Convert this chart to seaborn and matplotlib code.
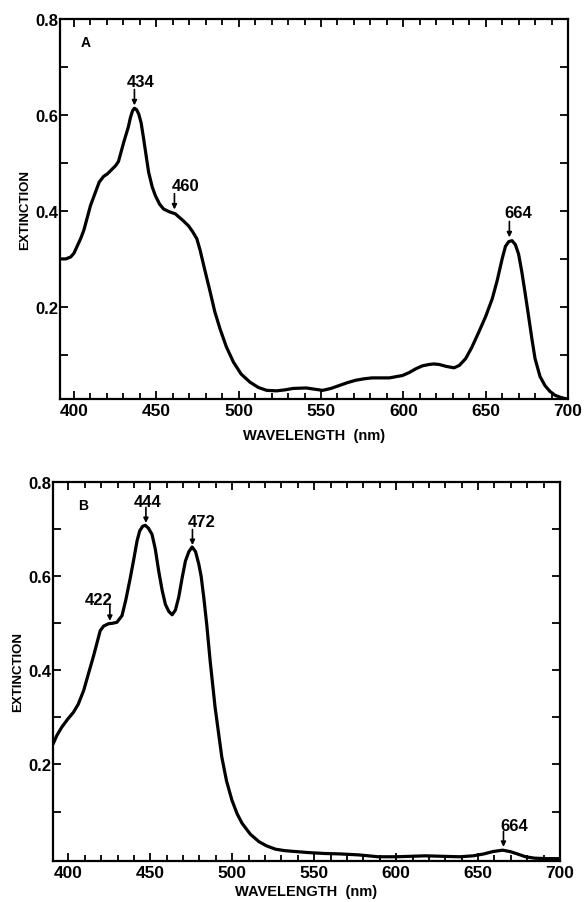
import matplotlib
matplotlib.use("Agg")
import matplotlib.pyplot as plt
import seaborn as sns
from matplotlib.ticker import MultipleLocator, FixedLocator

# spectrum A
wl_a = [392, 395, 398, 400, 404, 406, 410, 415.3, 418, 420.2, 425.2, 427, 430.2, 433,
        434.3, 435.6, 436.7, 438, 439.3, 440.8, 442.3, 445.3, 447.5, 449.4, 452,
        454.4, 458, 461.5, 466.5, 469.5, 472, 474.6, 476.6, 479.5, 482.7, 485.5,
        488.7, 492.5, 496.8, 501.5, 506.9, 512, 517, 523, 528, 533, 541, 551, 556,
        561, 566, 571, 576, 581, 591.5, 599.5, 603.5, 607.6, 611.5, 615.7, 618.5,
        621.7, 626, 630.8, 634, 637.8, 641.5, 645.9, 650, 654, 657, 660, 662, 664,
        666, 668, 670, 672, 674, 676, 678, 680, 683, 686, 689, 692, 695, 698, 700]
ext_a = [0.300, 0.300, 0.304, 0.312, 0.342, 0.360, 0.411, 0.460, 0.472, 0.477, 0.494,
         0.503, 0.543, 0.575, 0.595, 0.609, 0.614, 0.611, 0.602, 0.583, 0.550, 0.481,
         0.450, 0.432, 0.414, 0.404, 0.398, 0.394, 0.379, 0.369, 0.357, 0.342, 0.318,
         0.276, 0.231, 0.190, 0.154, 0.117, 0.085, 0.060, 0.043, 0.032, 0.026, 0.025,
         0.027, 0.030, 0.031, 0.026, 0.030, 0.036, 0.042, 0.047, 0.050, 0.052, 0.052,
         0.057, 0.063, 0.071, 0.077, 0.080, 0.081, 0.080, 0.076, 0.073, 0.078, 0.092,
         0.115, 0.148, 0.180, 0.217, 0.255, 0.300, 0.326, 0.336, 0.338, 0.330, 0.310,
         0.272, 0.228, 0.182, 0.135, 0.092, 0.055, 0.036, 0.024, 0.016, 0.012, 0.009,
         0.008]

# spectrum B
wl_b = [390.7, 393, 395.9, 399.5, 403.1, 406, 409.3, 412, 415.3, 419.4, 421.5, 424.5,
        427, 429.6, 432.7, 435, 437.8, 440, 441.9, 443.5, 445.3, 446.9, 448.8, 451,
        453, 455.1, 457.2, 459.2, 461.3, 463.3, 465.3, 467.3, 469.5, 471.4, 473.5,
        475.5, 477.6, 479.6, 481, 482.6, 484.4, 486.5, 489.5, 491.5, 493.6, 496.5,
        499.8, 503, 506, 511, 516.3, 521, 526.5, 532, 538.9, 546, 556, 566, 577, 589,
        600, 609, 618, 628, 639, 647, 653.5, 659, 665, 669.5, 674, 679, 684.5, 692, 700]
ext_b = [0.244, 0.262, 0.279, 0.296, 0.311, 0.328, 0.357, 0.390, 0.430, 0.484, 0.494,
         0.499, 0.500, 0.502, 0.516, 0.549, 0.597, 0.638, 0.675, 0.696, 0.706, 0.708,
         0.702, 0.689, 0.658, 0.611, 0.570, 0.540, 0.525, 0.518, 0.528, 0.555, 0.598,
         0.632, 0.652, 0.662, 0.652, 0.625, 0.600, 0.555, 0.498, 0.420, 0.322, 0.270,
         0.216, 0.165, 0.124, 0.095, 0.075, 0.052, 0.036, 0.027, 0.020, 0.017, 0.015,
         0.013, 0.011, 0.010, 0.008, 0.004, 0.004, 0.005, 0.006, 0.005, 0.004, 0.006,
         0.010, 0.015, 0.018, 0.015, 0.010, 0.004, 0.001, 0.000, 0.000]

# peak labels: (text, arrow x, arrow tip y, text x, text y)
peaks_a = [("434", 436.7, 0.620, 440.3, 0.670),
           ("460", 461.0, 0.403, 467.5, 0.452),
           ("664", 664.4, 0.345, 670.0, 0.397)]
peaks_b = [("422", 425.3, 0.505, 418.5, 0.551),
           ("444", 447.3, 0.713, 448.4, 0.759),
           ("472", 475.7, 0.666, 481.3, 0.717),
           ("664", 665.5, 0.025, 672.2, 0.071)]

sns.set_style("ticks")
plt.rcParams['font.family'] = ['Liberation Sans', 'DejaVu Sans']
plt.rcParams['font.weight'] = 'bold'
plt.rcParams['text.color'] = 'black'
plt.rcParams['axes.labelcolor'] = 'black'
plt.rcParams['xtick.color'] = 'black'
plt.rcParams['ytick.color'] = 'black'
plt.rcParams['axes.edgecolor'] = 'black'

fig = plt.figure(figsize=(5.87, 9.03), dpi=100)
ax_a = fig.add_axes([60 / 587, 1 - 400 / 903, 508 / 587, 380 / 903])
ax_b = fig.add_axes([53 / 587, 1 - 862 / 903, 507 / 587, 379 / 903])


def draw_panel(ax, wl, ext, peaks, letter, xlim, ylim, labelpad):
    sns.lineplot(x=wl, y=ext, ax=ax, color='black', linewidth=2.3, sort=False,
                 solid_joinstyle='round', solid_capstyle='round')
    ax.set_xlim(*xlim)
    ax.set_ylim(*ylim)
    ax.xaxis.set_major_locator(FixedLocator([400, 450, 500, 550, 600, 650, 700]))
    ax.xaxis.set_minor_locator(MultipleLocator(10))
    ax.yaxis.set_major_locator(FixedLocator([0.2, 0.4, 0.6, 0.8]))
    ax.yaxis.set_minor_locator(FixedLocator([0.1, 0.3, 0.5, 0.7]))
    ax.set_xticklabels(['400', '450', '500', '550', '600', '650', '700'])
    ax.set_yticklabels(['0.2', '0.4', '0.6', '0.8'])
    ax.tick_params(which='both', direction='in', top=True, right=True, width=1.3)
    ax.tick_params(axis='x', labelsize=12.5, pad=3)
    ax.tick_params(axis='y', labelsize=12, pad=1.5)
    ax.tick_params(which='major', length=6)
    ax.tick_params(which='minor', length=4)
    ax.tick_params(axis='y', which='minor', length=6)
    for s in ax.spines.values():
        s.set_linewidth(1.6)
    ax.set_xlabel('WAVELENGTH  (nm)', fontsize=10.5, fontweight='bold', labelpad=labelpad)
    ax.set_ylabel('EXTINCTION', fontsize=9.5, fontweight='bold', labelpad=3)
    ax.text(xlim[0] + 15.5 if letter == 'A' else xlim[0] + 18.6, 0.752, letter,
            fontsize=10, fontweight='bold', ha='center', va='center')
    for txt, ax_x, tip_y, tx, ty in peaks:
        ax.annotate('', xy=(ax_x, tip_y), xytext=(ax_x, tip_y + 0.033),
                    arrowprops=dict(arrowstyle='-|>', color='black', lw=1.2,
                                    mutation_scale=7, shrinkA=0, shrinkB=0))
        ax.text(tx, ty, txt, fontsize=12, fontweight='bold', ha='center', va='center')


draw_panel(ax_a, wl_a, ext_a, peaks_a, 'A', (391.5, 700), (0.008, 0.8), 7)
draw_panel(ax_b, wl_b, ext_b, peaks_b, 'B', (390.6, 700), (-0.005, 0.8), 3)

fig.savefig('out.png', dpi=100, facecolor='white')
